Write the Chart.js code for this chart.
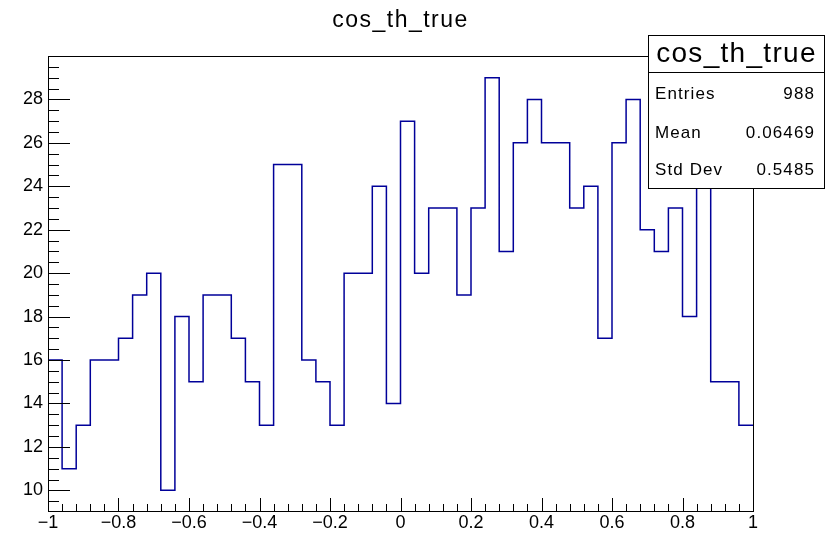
<!DOCTYPE html>
<html>
<head>
<meta charset="utf-8">
<title>cos_th_true</title>
<script src="https://cdn.jsdelivr.net/npm/chart.js@4"></script>
<style>
  html, body { margin: 0; padding: 0; background: #fff; }
  #wrap { width: 829px; height: 533px; position: relative; }
</style>
</head>
<body>
<div id="wrap"><canvas id="hist"></canvas></div>
<script>
// histogram definition (50 bins from -1 to 1)
const histName = 'cos_th_true';
const xMin = -1, xMax = 1, binWidth = 0.04;
const yMin = 9.05, yMax = 30;
const counts = [16, 11, 13, 16, 16, 17, 19, 20, 10, 18,
  15, 19, 19, 17, 15, 13, 25, 25, 16, 15,
  13, 20, 20, 24, 14, 27, 20, 23, 23, 19,
  23, 29, 21, 26, 28, 26, 26, 23, 24, 17,
  26, 28, 22, 21, 23, 18, 26, 15, 15, 13];
const xTicks = [-1, -0.8, -0.6, -0.4, -0.2, 0, 0.2, 0.4, 0.6, 0.8, 1];
const yTicks = [10, 12, 14, 16, 18, 20, 22, 24, 26, 28];
const xMinorStep = 0.04, yMinorStep = 0.5;
const statLabels = ['Entries', 'Mean', 'Std Dev'];
const statValues = ['988', '0.06469', '0.5485'];

const FONT = '"Liberation Sans", Arial, Helvetica, sans-serif';

// outline points at the left edge of each bin, plus the right edge of the last one
const points = counts.map((c, i) => ({ x: xMin + i * binWidth, y: c }));
points.push({ x: xMax, y: counts[counts.length - 1] });

function fmt(v) {
  const r = Math.round(v * 10) / 10;
  return String(r).replace('-', '\u2212');
}

const rootStyle = {
  id: 'rootStyle',
  afterDatasetsDraw(chart) {
    const { ctx, chartArea: a, scales: { x, y } } = chart;
    ctx.save();
    ctx.strokeStyle = '#000';
    ctx.lineWidth = 1;
    ctx.beginPath();
    // x ticks, pointing up into the frame
    for (let k = 0; k * xMinorStep <= (xMax - xMin) + 1e-9; k++) {
      const v = xMin + k * xMinorStep;
      const major = xTicks.some(t => Math.abs(t - v) < 1e-6);
      const px = Math.round(x.getPixelForValue(v)) + 0.5;
      ctx.moveTo(px, a.bottom);
      ctx.lineTo(px, a.bottom - (major ? 13 : 7));
    }
    // y ticks, pointing right into the frame
    for (let v = Math.ceil(yMin / yMinorStep) * yMinorStep; v <= yMax - 1e-9; v += yMinorStep) {
      const major = yTicks.includes(v);
      const py = Math.round(y.getPixelForValue(v)) + 0.5;
      ctx.moveTo(a.left, py);
      ctx.lineTo(a.left + (major ? 22 : 11), py);
    }
    ctx.stroke();
    ctx.strokeRect(Math.round(a.left) + 0.5, Math.round(a.top) + 0.5,
      Math.round(a.right - a.left), Math.round(a.bottom - a.top));
    ctx.restore();
  },
  afterDraw(chart) {
    const { ctx, chartArea: a } = chart;
    ctx.save();
    ctx.fillStyle = '#000';
    // title
    ctx.font = '23px ' + FONT;
    ctx.letterSpacing = '1.5px';
    ctx.textAlign = 'center';
    ctx.textBaseline = 'alphabetic';
    ctx.fillText(histName, (a.left + a.right) / 2, 27);

    // stats box
    const bx = 648.5, by = 35.5, bw = 176, bh = 153;
    ctx.fillStyle = '#fff';
    ctx.fillRect(bx, by, bw, bh);
    ctx.strokeStyle = '#000';
    ctx.lineWidth = 1;
    ctx.strokeRect(bx, by, bw, bh);
    ctx.beginPath();
    ctx.moveTo(bx, 72.5);
    ctx.lineTo(bx + bw, 72.5);
    ctx.stroke();

    ctx.fillStyle = '#000';
    ctx.font = '28px ' + FONT;
    ctx.letterSpacing = '1.3px';
    ctx.fillText(histName, bx + bw / 2, 62);

    ctx.font = '17px ' + FONT;
    ctx.letterSpacing = '1.1px';
    const rowY = [99, 137.5, 174.5];
    statLabels.forEach((lab, i) => {
      ctx.textAlign = 'left';
      ctx.fillText(lab, 655, rowY[i]);
      ctx.textAlign = 'right';
      ctx.fillText(statValues[i], 815, rowY[i]);
    });
    ctx.restore();
  }
};

new Chart(document.getElementById('hist'), {
  type: 'line',
  data: {
    datasets: [{
      label: histName,
      data: points,
      stepped: 'before',
      borderColor: '#000099',
      borderWidth: 1.5,
      pointRadius: 0,
      fill: false
    }]
  },
  options: {
    responsive: true,
    maintainAspectRatio: false,
    animation: false,
    layout: { padding: { top: 56, right: 76, bottom: 0, left: 0 } },
    plugins: {
      legend: { display: false },
      tooltip: { enabled: false },
      title: { display: false }
    },
    scales: {
      x: {
        type: 'linear',
        min: xMin,
        max: xMax,
        grid: { display: false, drawTicks: false },
        border: { display: false },
        afterBuildTicks: s => { s.ticks = xTicks.map(v => ({ value: v })); },
        afterFit: s => { s.height = 22; },
        ticks: {
          color: '#000',
          padding: 1,
          maxRotation: 0,
          autoSkip: false,
          font: { family: FONT, size: 18 },
          callback: v => fmt(v)
        }
      },
      y: {
        min: yMin,
        max: yMax,
        grid: { display: false, drawTicks: false },
        border: { display: false },
        afterBuildTicks: s => { s.ticks = yTicks.map(v => ({ value: v })); },
        afterFit: s => { s.width = 48; },
        ticks: {
          color: '#000',
          padding: 5,
          autoSkip: false,
          font: { family: FONT, size: 18 },
          callback: v => fmt(v)
        }
      }
    }
  },
  plugins: [rootStyle]
});
</script>
</body>
</html>
